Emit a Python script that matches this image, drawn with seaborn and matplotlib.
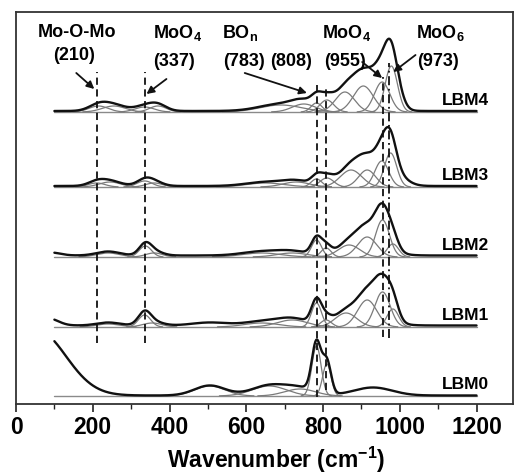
import numpy as np
import pandas as pd
import matplotlib
matplotlib.use("Agg")
import matplotlib.pyplot as plt
import seaborn as sns

# ---------------- data ----------------
samples = ["LBM0", "LBM1", "LBM2", "LBM3", "LBM4"]
offsets = [8, 77, 147, 217, 292]          # vertical stacking of spectra (a.u.)
backgrounds = [0.5, 1.5, 1.5, 1.0, 1.0]   # flat level of each measured curve

# fitted Gaussian components (center cm-1, height a.u., sigma cm-1) - drawn in grey
comp_lbm0 = [(505, 10, 40), (660, 10, 45), (740, 7, 40), (783, 50, 12), (810, 32, 11)]
comp_lbm1 = [(240, 3, 30), (335, 12, 16), (355, 4, 25), (640, 4, 45), (720, 7, 40),
             (783, 24, 13), (808, 7, 14), (860, 14, 28), (915, 27, 25), (955, 35, 20),
             (982, 18, 15)]
comp_lbm2 = [(240, 4, 30), (337, 11, 16), (360, 4, 22), (640, 4, 50), (720, 4, 40),
             (783, 17, 13), (808, 9, 13), (868, 12, 28), (915, 20, 25), (955, 37, 18),
             (982, 13, 15)]
comp_lbm3 = [(210, 4, 22), (245, 5, 28), (335, 6, 20), (360, 4, 22), (650, 4, 50),
             (730, 5, 35), (783, 8, 14), (810, 9, 18), (873, 17, 28), (915, 17, 22),
             (953, 26, 18), (976, 34, 16)]
comp_lbm4 = [(215, 6, 25), (255, 6, 30), (335, 5, 25), (370, 6, 22), (690, 7, 55),
             (750, 8, 30), (783, 9, 14), (810, 12, 18), (857, 20, 25), (905, 26, 26),
             (954, 30, 20), (978, 46, 16)]

# further bands that appear only in the measured (black) curves
extra_lbm0 = [(55, 65, 75), (930, 8, 50)]
extra_lbm1 = [(85, 7, 25), (505, 3, 45), (935, 6, 45)]
extra_lbm2 = [(90, 3, 25), (930, 8, 45)]
extra_lbm3 = [(920, 8, 50), (995, 8, 25)]
extra_lbm4 = [(925, 14, 40), (1000, 8, 15)]

components = [comp_lbm0, comp_lbm1, comp_lbm2, comp_lbm3, comp_lbm4]
extras = [extra_lbm0, extra_lbm1, extra_lbm2, extra_lbm3, extra_lbm4]

peak_positions = [210, 337, 783, 808, 955, 973]
group_names = ["Mo-O-Mo", "MoO$_4$", "BO$_n$", "MoO$_4$", "MoO$_6$"]
peak_labels = ["(210)", "(337)", "(783)", "(808)", "(955)", "(973)"]

x_ticks = [0, 200, 400, 600, 800, 1000, 1200]
wn_range = (100, 1200)

# ---------------- style ----------------
sns.set_style("white")
plt.rcParams["font.family"] = ["Liberation Sans", "DejaVu Sans"]
plt.rcParams["font.weight"] = "bold"
plt.rcParams["text.color"] = "black"
plt.rcParams["axes.labelcolor"] = "black"
plt.rcParams["xtick.color"] = "black"
plt.rcParams["mathtext.fontset"] = "custom"
plt.rcParams["mathtext.rm"] = "Liberation Sans:bold"
plt.rcParams["mathtext.bf"] = "Liberation Sans:bold"
plt.rcParams["mathtext.default"] = "bf"

fig = plt.figure(figsize=(5.15, 4.76), dpi=100)
ax = fig.add_axes([0.0311, 0.1513, 0.965, 0.8235])

wn = np.arange(wn_range[0], wn_range[1] + 1, 1.0)


def band(c, h, s):
    return h * np.exp(-((wn - c) ** 2) / (2 * s ** 2))


comp_color = "#7a7a7a"
for off, bg, comps, ext in zip(offsets, backgrounds, components, extras):
    # baseline
    sns.lineplot(x=[wn_range[0], wn_range[1]], y=[off, off], color="#8a8a8a",
                 lw=1.0, ax=ax, estimator=None)
    total = np.full_like(wn, bg)
    for c, h, s in comps:
        g = band(c, h, s)
        total += g
        m = g > 0.15
        sns.lineplot(x=wn[m], y=off + g[m], color=comp_color, lw=0.9, ax=ax,
                     estimator=None)
    for c, h, s in ext:
        total += band(c, h, s)
    sns.lineplot(x=wn, y=off + total, color="#111111", lw=1.7, ax=ax,
                 estimator=None)

# vertical marker lines (layout extents)
line_spans = [(61, 332), (61, 332), (7, 319), (14, 319), (67, 327), (66, 341)]
line_styles = [(0, (4, 2.5)), (0, (4, 2.5)), (0, (4, 2.5)), (0, (4, 2.5)),
               (0, (4, 2.5)), (0, (5, 2, 1, 2))]
for p, (y0, y1), ls in zip(peak_positions, line_spans, line_styles):
    ax.plot([p, p], [y0, y1], color="#111111", lw=1.3, linestyle=ls)

# group labels and peak labels
group_xy = [(159, 371), (420, 371), (584, 371), (862, 371), (1107, 371)]
for name, (x, y) in zip(group_names, group_xy):
    ax.text(x, y, name, ha="center", va="center", fontsize=13, fontweight="bold")
label_xy = [(151, 348), (412, 342), (594, 342), (716, 342), (857, 342), (1100, 342)]
for lab, (x, y) in zip(peak_labels, label_xy):
    ax.text(x, y, lab, ha="center", va="center", fontsize=13, fontweight="bold")

# arrows
arrows = [((157, 331), (204, 315)), ((392, 325), (340, 310)),
          ((596, 331), (758, 311)), ((902, 342), (954, 326)),
          ((1041, 349), (983, 332))]
for tail, head in arrows:
    ax.annotate("", xy=head, xytext=tail,
                arrowprops=dict(arrowstyle="-|>", color="#111111", lw=1.3,
                                mutation_scale=11, shrinkA=0, shrinkB=0))

# sample names
for name, off in zip(samples, offsets):
    ax.text(1232, off + 11, name, ha="right", va="center", fontsize=12.5,
            fontweight="bold")

ax.set_xlim(0, 1295)
ax.set_ylim(0, 392)
ax.set_xticks(x_ticks)
ax.set_xticks(np.arange(100, 1300, 200), minor=True)
ax.set_yticks([])
ax.set_xticklabels([str(t) for t in x_ticks], fontsize=16.5, fontweight="bold")
ax.tick_params(axis="x", which="major", direction="out", length=6, width=1.2,
               color="#222222", pad=3, bottom=True)
ax.tick_params(axis="x", which="minor", direction="out", length=3.5, width=1.0,
               color="#222222", bottom=True)
ax.set_xlabel("Wavenumber (cm$^{-1}$)", fontsize=16.5, fontweight="bold")
ax.xaxis.set_label_coords(0.524, -0.105)
ax.set_ylabel("")
for sp in ax.spines.values():
    sp.set_visible(True)
    sp.set_color("#333333")
    sp.set_linewidth(1.3)

fig.savefig("out.png", dpi=100)
